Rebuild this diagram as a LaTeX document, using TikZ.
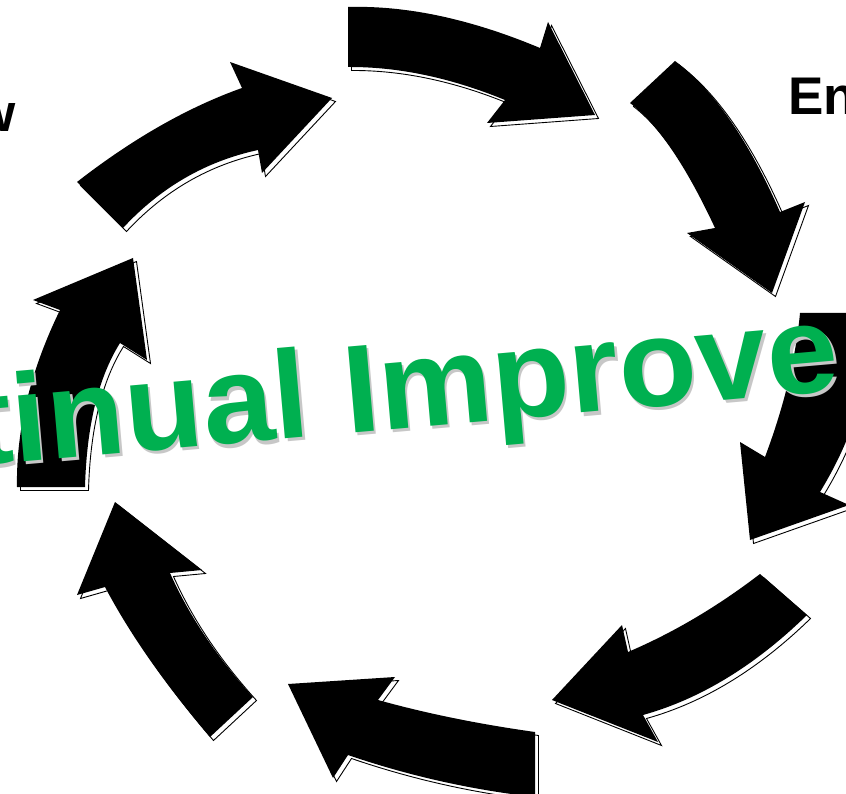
\documentclass[tikz,border=0pt]{standalone}
\usepackage{fontspec}
\setmainfont{Liberation Sans}
\definecolor{ciGreen}{HTML}{00B050}
\tikzset{
  arrowbody/.style={fill=black},
  arrowshadow/.style={fill=white, draw=black, line width=0.9pt, shift={(3.5,3.5)}},
  bigtext/.style={inner sep=0pt, font=\fontsize{125pt}{150pt}\selectfont\bfseries, anchor=base west, rotate=5, xscale=1.02},
  sidelabel/.style={inner sep=0pt, font=\fontsize{53pt}{60pt}\selectfont\bfseries, text=black},
}
\newcommand\cyclearrow[1]{\path[arrowshadow] #1; \path[arrowbody] #1;}
\begin{document}
\begin{tikzpicture}[x=1pt,y=-1pt]
\useasboundingbox (0,0) rectangle (846,794);
\clip (0,0) rectangle (846,794);
\fill[white] (0,0) rectangle (846,794);
% arrow 1 (top)
\cyclearrow{(348,7) .. controls (406.7,5.3) and (470.7,19) .. (540,48) -- (548,22) -- (595,115) -- (487,123) -- (505,100) .. controls (450.7,77.7) and (398.3,66.7) .. (348,67) -- cycle}
% arrow 2 (upper right)
\cyclearrow{(675,61) .. controls (713.3,89.3) and (748.3,139.7) .. (780,212) -- (805,202) -- (772,293) -- (687,233) -- (715,228) .. controls (686,165.7) and (657.7,124) .. (630,103) -- cycle}
% arrow 3 (right)
\cyclearrow{(865,313) .. controls (873.3,369.3) and (858.3,429) .. (820,492) -- (849,505) -- (750,540) -- (740,442) -- (765,457) .. controls (784,406.3) and (795.7,358.3) .. (800,313) -- cycle}
% arrow 4 (lower right)
\cyclearrow{(760,574) .. controls (717.3,606.7) and (673.3,632.7) .. (628,652) -- (622,625) -- (552,700) -- (658,742) -- (643,715) .. controls (700.3,699) and (755,665.7) .. (807,615) -- cycle}
% arrow 5 (bottom)
\cyclearrow{(535,732) .. controls (478,724) and (425.7,713.3) .. (378,700) -- (395,677) -- (288,684) -- (333,778) -- (348,755) .. controls (408.3,775.7) and (470.6,789.7) .. (535,797) -- cycle}
% arrow 6 (lower left)
\cyclearrow{(210,737) .. controls (165,684.3) and (130,634.3) .. (105,587) -- (77,595) -- (115,502) -- (202,570) -- (170,573) .. controls (189,615.7) and (216.7,657) .. (253,697) -- cycle}
% arrow 7 (left)
\cyclearrow{(17,487) .. controls (16,430) and (30.3,371) .. (60,310) -- (33,300) -- (133,258) -- (147,360) -- (120,343) .. controls (98.3,377.7) and (86.7,425.7) .. (85,487) -- cycle}
% arrow 8 (upper left)
\cyclearrow{(77,182) .. controls (132.7,138.7) and (187.7,107.3) .. (242,88) -- (230,62) -- (332,98) -- (262,173) -- (258,150) .. controls (205.7,161.3) and (160.7,187.3) .. (123,228) -- cycle}
% title with soft shadow
\node[bigtext, text=black!22] (titleshadow) at (-24.5,469.5) {tinual Improve};
\node[bigtext, text=ciGreen] (title) at (-27,466) {tinual Improve};
% side labels
\node[sidelabel, anchor=base east] (lblW) at (16,132) {w};
\node[sidelabel, anchor=base west] (lblEn) at (788,115) {En};
\end{tikzpicture}
\end{document}
